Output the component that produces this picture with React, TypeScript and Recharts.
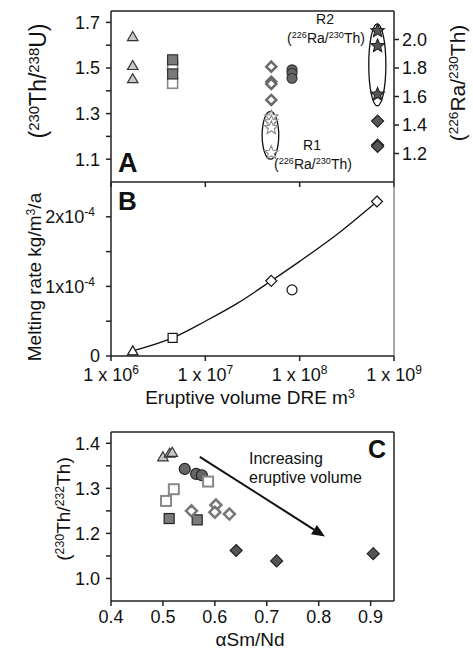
import React from 'react';
import {
    ComposedChart,
    Line,
    ReferenceArea,
    ReferenceLine,
    Scatter,
    XAxis,
    YAxis,
} from 'recharts';

const FONT = '"Liberation Sans", Arial, Helvetica, sans-serif';

// eruptive volume axis (panels A and B), log scale
const volTicks = [1e6, 1e7, 1e8, 1e9];
const volExp = ['6', '7', '8', '9'];

// panel A, left axis (230Th/238U)
const aLeftTicks = [1.1, 1.2, 1.3, 1.4, 1.5, 1.6, 1.7];
const aLeftLabels = ['1.1', '', '1.3', '', '1.5', '', '1.7'];
// panel A, right axis (226Ra/230Th)
const aRightTicks = [1.2, 1.4, 1.6, 1.8, 2.0];

const aTri = [{ x: 1.7e6, y: 1.638 }, { x: 1.7e6, y: 1.511 }, { x: 1.7e6, y: 1.453 }];
const aSqOpen = [{ x: 4.5e6, y: 1.511 }, { x: 4.5e6, y: 1.433 }];
const aSqFill = [{ x: 4.5e6, y: 1.536 }, { x: 4.5e6, y: 1.474 }];
const aDiaOpen = [
    { x: 5e7, y: 1.506 },
    { x: 5e7, y: 1.44 },
    { x: 5e7, y: 1.43 },
    { x: 5e7, y: 1.36 },
];
const aCirc = [{ x: 8.3e7, y: 1.492 }, { x: 8.3e7, y: 1.477 }, { x: 8.3e7, y: 1.455 }];
const aDiaDark = [{ x: 6.7e8, y: 1.267 }, { x: 6.7e8, y: 1.162 }, { x: 6.7e8, y: 1.156 }];
const aStarR1 = [
    { x: 5e7, y: 1.455 },
    { x: 5e7, y: 1.42 },
    { x: 5e7, y: 1.38 },
    { x: 5e7, y: 1.205 },
];
const aStarR2 = [{ x: 6.7e8, y: 2.06 }, { x: 6.7e8, y: 1.955 }, { x: 6.7e8, y: 1.615 }];
const ringR1 = { x1: 4.0e7, x2: 6.0e7, y1: 1.16, y2: 1.495 };
const ringR2 = { x1: 5.4e8, x2: 8.2e8, y1: 1.535, y2: 2.11 };

// panel B, melting rate
const bYTicks = [0, 0.5e-4, 1e-4, 1.5e-4, 2e-4];
const bYLabels = ['0', '', '1x10', '', '2x10'];
const bYExp = ['', '', '-4', '', '-4'];
const bTri = [{ x: 1.7e6, y: 0.074e-4 }];
const bSq = [{ x: 4.5e6, y: 0.26e-4 }];
const bDia = [{ x: 5e7, y: 1.08e-4 }, { x: 6.6e8, y: 2.22e-4 }];
const bCirc = [{ x: 8.3e7, y: 0.95e-4 }];
const bFit = [
    { x: 1.7e6, y: 0.074e-4 },
    { x: 4.5e6, y: 0.26e-4 },
    { x: 1e7, y: 0.5e-4 },
    { x: 2.2e7, y: 0.76e-4 },
    { x: 5e7, y: 1.08e-4 },
    { x: 1e8, y: 1.36e-4 },
    { x: 2.5e8, y: 1.75e-4 },
    { x: 6.6e8, y: 2.22e-4 },
];

// panel C, (230Th/232Th) vs alpha Sm/Nd
const cXTicks = [0.4, 0.5, 0.6, 0.7, 0.8, 0.9];
const cYTicks = [1.1, 1.15, 1.2, 1.25, 1.3, 1.35, 1.4];
const cYLabels = ['1.0', '', '1.2', '', '1.3', '', '1.4'];
const cTri = [{ x: 0.5, y: 1.37 }, { x: 0.513, y: 1.378 }, { x: 0.518, y: 1.38 }];
const cCirc = [{ x: 0.542, y: 1.343 }, { x: 0.564, y: 1.332 }, { x: 0.575, y: 1.329 }];
const cSqOpen = [{ x: 0.587, y: 1.315 }, { x: 0.521, y: 1.298 }, { x: 0.506, y: 1.272 }];
const cSqFill = [{ x: 0.512, y: 1.233 }, { x: 0.566, y: 1.23 }];
const cDiaOpen = [
    { x: 0.555, y: 1.25 },
    { x: 0.602, y: 1.263 },
    { x: 0.6, y: 1.247 },
    { x: 0.628, y: 1.243 },
];
const cDiaDark = [{ x: 0.641, y: 1.162 }, { x: 0.719, y: 1.139 }, { x: 0.905, y: 1.155 }];
const cArrow = [{ x: 0.571, y: 1.37 }, { x: 0.812, y: 1.193 }];

// marker shapes
const mark = (kind: string, fill: string, stroke: string, sw = 1.2, r = 5) => (p: any) => {
    const { cx, cy } = p;
    if (kind === 'tri') {
        return (
            <polygon
                points={`${cx},${cy - r} ${cx + r * 1.05},${cy + r * 0.8} ${cx - r * 1.05},${cy + r * 0.8}`}
                fill={fill}
                stroke={stroke}
                strokeWidth={sw}
            />
        );
    }
    if (kind === 'sq') {
        return <rect x={cx - r} y={cy - r} width={r * 2} height={r * 2} fill={fill} stroke={stroke} strokeWidth={sw} />;
    }
    if (kind === 'dia') {
        return (
            <polygon
                points={`${cx},${cy - r} ${cx + r},${cy} ${cx},${cy + r} ${cx - r},${cy}`}
                fill={fill}
                stroke={stroke}
                strokeWidth={sw}
            />
        );
    }
    if (kind === 'star') {
        const pts = [];
        for (let i = 0; i < 10; i++) {
            const a = ((-90 + i * 36) * Math.PI) / 180;
            const rr = i % 2 === 0 ? r : r * 0.45;
            pts.push(`${cx + rr * Math.cos(a)},${cy + rr * Math.sin(a)}`);
        }
        return <polygon points={pts.join(' ')} fill={fill} stroke={stroke} strokeWidth={sw} />;
    }
    return <circle cx={cx} cy={cy} r={r} fill={fill} stroke={stroke} strokeWidth={sw} />;
};

const ring = (p: any) => (
    <ellipse
        cx={p.x + p.width / 2}
        cy={p.y + p.height / 2}
        rx={Math.abs(p.width) / 2}
        ry={Math.abs(p.height) / 2}
        fill="none"
        stroke="#111"
        strokeWidth={1.3}
    />
);

const arrow = (p: any) => {
    const { x1, y1, x2, y2 } = p;
    const ang = Math.atan2(y2 - y1, x2 - x1);
    const bx = x2 - 13 * Math.cos(ang);
    const by = y2 - 13 * Math.sin(ang);
    const px = -Math.sin(ang) * 5.5;
    const py = Math.cos(ang) * 5.5;
    return (
        <g>
            <line x1={x1} y1={y1} x2={bx} y2={by} stroke="#111" strokeWidth={2} />
            <polygon points={`${x2},${y2} ${bx + px},${by + py} ${bx - px},${by - py}`} fill="#111" />
        </g>
    );
};

const VolTick = ({ x, y, payload }: any) => {
    const i = volTicks.indexOf(payload.value);
    return (
        <text x={x} y={y} dy="0.71em" textAnchor="middle" fontSize={18} fill="#111">
            1 x 10
            <tspan dy={-7} fontSize={12}>
                {volExp[i]}
            </tspan>
        </text>
    );
};

const RateTick = ({ x, y, payload }: any) => {
    const i = bYTicks.indexOf(payload.value);
    return (
        <text x={bYExp[i] ? x - 5 : x} y={y} dy="0.355em" textAnchor="end" fontSize={18} fill="#111">
            {bYLabels[i]}
            {bYExp[i] ? (
                <tspan dy={-7} fontSize={12}>
                    {bYExp[i]}
                </tspan>
            ) : null}
        </text>
    );
};

const axisStyle = { stroke: '#222', strokeWidth: 1.5 };
const tickFont = { fontSize: 18, fill: '#111' };

// superscript: raise r px, next tspan drops back by r
const Sup = ({ children, r = 7 }: { children: React.ReactNode; r?: number }) => (
    <tspan dy={-r} fontSize="0.65em">
        {children}
    </tspan>
);

const RaTh = ({ r }: { r: number }) => (
    <>
        (<Sup r={r}>226</Sup>
        <tspan dy={r}>Ra/</tspan>
        <Sup r={r}>230</Sup>
        <tspan dy={r}>Th)</tspan>
    </>
);

export default function App() {
    return (
        <div style={{ position: 'absolute', left: 0, top: 0, width: 473, height: 650, fontFamily: FONT, background: '#fff' }}>
            {/* panel A */}
            <div style={{ position: 'absolute', left: 0, top: 0 }}>
                <ComposedChart width={473} height={200} margin={{ top: 11, right: 0, bottom: 0, left: 0 }}>
                    <XAxis
                        dataKey="x"
                        type="number"
                        scale="log"
                        domain={[1e6, 1e9]}
                        allowDataOverflow
                        ticks={volTicks}
                        tickFormatter={() => ''}
                        height={18}
                        tickSize={5}
                        {...axisStyle}
                    />
                    <YAxis
                        yAxisId="l"
                        type="number"
                        domain={[1.0, 1.75]}
                        allowDataOverflow
                        ticks={aLeftTicks}
                        tickFormatter={(v: number) => aLeftLabels[aLeftTicks.indexOf(v)] ?? ''}
                        width={111}
                        tickSize={5}
                        tickMargin={6}
                        tick={tickFont}
                        {...axisStyle}
                    />
                    <YAxis
                        yAxisId="r"
                        orientation="right"
                        type="number"
                        domain={[1.0, 2.2]}
                        allowDataOverflow
                        ticks={aRightTicks}
                        tickFormatter={(v: number) => v.toFixed(1)}
                        width={79}
                        tickSize={5}
                        tickMargin={3}
                        tick={tickFont}
                        {...axisStyle}
                    />
                    <ReferenceLine yAxisId="l" y={1.75} stroke="#222" strokeWidth={1.5} />
                    <ReferenceArea yAxisId="r" {...ringR1} shape={ring} />
                    <ReferenceArea yAxisId="r" {...ringR2} shape={ring} />
                    <Scatter yAxisId="l" data={aTri} dataKey="y" shape={mark('tri', '#c8c8c8', '#333')} isAnimationActive={false} />
                    <Scatter yAxisId="l" data={aSqOpen} dataKey="y" shape={mark('sq', '#fff', '#888', 1.6)} isAnimationActive={false} />
                    <Scatter yAxisId="l" data={aSqFill} dataKey="y" shape={mark('sq', '#7a7a7a', '#333')} isAnimationActive={false} />
                    <Scatter yAxisId="l" data={aDiaOpen} dataKey="y" shape={mark('dia', '#fff', '#6a6a6a', 2.5, 5)} isAnimationActive={false} />
                    <Scatter yAxisId="l" data={aCirc} dataKey="y" shape={mark('circ', '#666', '#333')} isAnimationActive={false} />
                    <Scatter yAxisId="l" data={aDiaDark} dataKey="y" shape={mark('dia', '#555', '#222', 1.2, 6)} isAnimationActive={false} />
                    <Scatter yAxisId="r" data={aStarR1} dataKey="y" shape={mark('star', '#fff', '#888', 1.1, 7)} isAnimationActive={false} />
                    <Scatter yAxisId="r" data={aStarR2} dataKey="y" shape={mark('star', '#555', '#222', 1.1, 7)} isAnimationActive={false} />
                </ComposedChart>
            </div>

            {/* panel B */}
            <div style={{ position: 'absolute', left: 0, top: 170 }}>
                <ComposedChart width={473} height={230} margin={{ top: 12, right: 79, bottom: 0, left: 0 }}>
                    <XAxis
                        dataKey="x"
                        type="number"
                        scale="log"
                        domain={[1e6, 1e9]}
                        allowDataOverflow
                        ticks={volTicks}
                        tick={<VolTick />}
                        height={44}
                        tickSize={5}
                        tickMargin={7}
                        {...axisStyle}
                    />
                    <YAxis
                        type="number"
                        domain={[0, 2.5e-4]}
                        allowDataOverflow
                        ticks={bYTicks}
                        tick={<RateTick />}
                        width={111}
                        tickSize={5}
                        tickMargin={6}
                        {...axisStyle}
                    />
                    <ReferenceLine x={1e9} stroke="#555" strokeWidth={1} />
                    <Line
                        data={bFit}
                        dataKey="y"
                        type="monotone"
                        dot={false}
                        stroke="#111"
                        strokeWidth={1.3}
                        isAnimationActive={false}
                    />
                    <Scatter data={bTri} dataKey="y" shape={mark('tri', '#fff', '#111')} isAnimationActive={false} />
                    <Scatter data={bSq} dataKey="y" shape={mark('sq', '#fff', '#111', 1.2, 4.5)} isAnimationActive={false} />
                    <Scatter data={bDia} dataKey="y" shape={mark('dia', '#fff', '#111', 1.2, 5.5)} isAnimationActive={false} />
                    <Scatter data={bCirc} dataKey="y" shape={mark('circ', '#fff', '#111')} isAnimationActive={false} />
                </ComposedChart>
            </div>

            {/* panel C */}
            <div style={{ position: 'absolute', left: 0, top: 420 }}>
                <ComposedChart width={473} height={230} margin={{ top: 12, right: 79, bottom: 0, left: 0 }}>
                    <XAxis
                        dataKey="x"
                        type="number"
                        domain={[0.4, 0.945]}
                        allowDataOverflow
                        ticks={cXTicks}
                        tickFormatter={(v: number) => v.toFixed(1)}
                        height={49}
                        tickSize={5}
                        tickMargin={4}
                        tick={tickFont}
                        {...axisStyle}
                    />
                    <YAxis
                        type="number"
                        domain={[1.05, 1.425]}
                        allowDataOverflow
                        ticks={cYTicks}
                        tickFormatter={(v: number) => cYLabels[cYTicks.indexOf(v)] ?? ''}
                        width={111}
                        tickSize={5}
                        tickMargin={6}
                        tick={tickFont}
                        {...axisStyle}
                    />
                    <ReferenceLine y={1.425} stroke="#222" strokeWidth={1.5} />
                    <ReferenceLine x={0.945} stroke="#222" strokeWidth={1.5} />
                    <ReferenceLine segment={cArrow} shape={arrow} />
                    <Scatter data={cTri} dataKey="y" shape={mark('tri', '#c8c8c8', '#333')} isAnimationActive={false} />
                    <Scatter data={cCirc} dataKey="y" shape={mark('circ', '#666', '#222', 1.2, 5.5)} isAnimationActive={false} />
                    <Scatter data={cSqOpen} dataKey="y" shape={mark('sq', '#fff', '#888', 2)} isAnimationActive={false} />
                    <Scatter data={cSqFill} dataKey="y" shape={mark('sq', '#7a7a7a', '#222', 1.2)} isAnimationActive={false} />
                    <Scatter data={cDiaOpen} dataKey="y" shape={mark('dia', '#fff', '#777', 2.5, 5.5)} isAnimationActive={false} />
                    <Scatter data={cDiaDark} dataKey="y" shape={mark('dia', '#555', '#222', 1.2, 6)} isAnimationActive={false} />
                </ComposedChart>
            </div>

            {/* titles and notes */}
            <svg width={473} height={650} style={{ position: 'absolute', left: 0, top: 0, pointerEvents: 'none' }}>
                <g fill="#111" fontFamily={FONT}>
                    <text transform="translate(46,81) rotate(-90)" textAnchor="middle" fontSize={23}>
                        (<Sup>230</Sup>
                        <tspan dy={7}>Th/</tspan>
                        <Sup>238</Sup>
                        <tspan dy={7}>U)</tspan>
                    </text>
                    <text transform="translate(465,83) rotate(-90)" textAnchor="middle" fontSize={21}>
                        <RaTh r={7} />
                    </text>
                    <text x={118} y={172} fontSize={27} fontWeight="bold">A</text>
                    <text x={325} y={24} fontSize={14} textAnchor="middle">R2</text>
                    <text x={326} y={43} fontSize={14} textAnchor="middle">
                        <RaTh r={5} />
                    </text>
                    <text x={312} y={150} fontSize={14} textAnchor="middle">R1</text>
                    <text x={313} y={169} fontSize={14} textAnchor="middle">
                        <RaTh r={5} />
                    </text>

                    <text x={118} y={210} fontSize={26} fontWeight="bold">B</text>
                    <text transform="translate(41,277) rotate(-90)" textAnchor="middle" fontSize={19}>
                        Melting rate kg/m<Sup r={6}>3</Sup>
                        <tspan dy={6}>/a</tspan>
                    </text>
                    <text x={250} y={404} textAnchor="middle" fontSize={19}>
                        Eruptive volume DRE m<Sup r={6}>3</Sup>
                    </text>

                    <text x={368} y={458} fontSize={25} fontWeight="bold">C</text>
                    <text x={249} y={464} fontSize={16}>Increasing</text>
                    <text x={249} y={483} fontSize={16}>eruptive volume</text>
                    <text transform="translate(70,509) rotate(-90)" textAnchor="middle" fontSize={19}>
                        (<Sup r={6}>230</Sup>
                        <tspan dy={6}>Th/</tspan>
                        <Sup r={6}>232</Sup>
                        <tspan dy={6}>Th)</tspan>
                    </text>
                    <text x={250} y={646} textAnchor="middle" fontSize={19}>αSm/Nd</text>
                </g>
            </svg>
        </div>
    );
}
